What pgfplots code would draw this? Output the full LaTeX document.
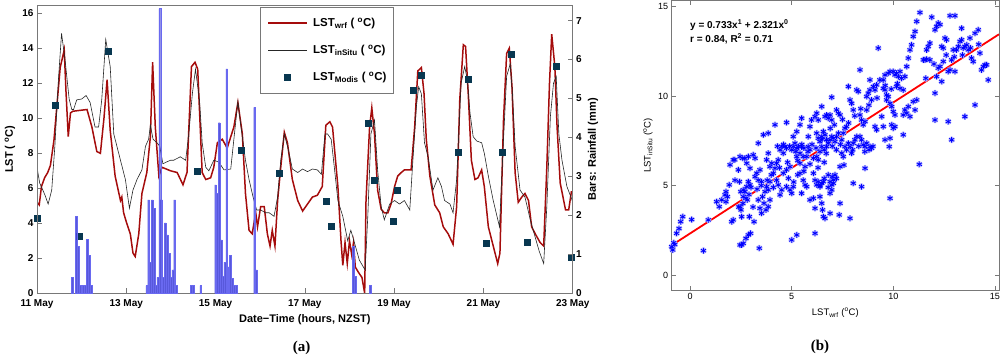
\documentclass[border=0pt]{standalone}
\usepackage{fontspec}
\setmainfont{Liberation Sans}
\newfontfamily\seriffont{Liberation Serif}
\usepackage{pgfplots}
\usepackage{pgfplotstable}
\pgfplotsset{compat=1.18}
\definecolor{wrfred}{RGB}{165,12,12}
\definecolor{modis}{RGB}{8,55,80}
\definecolor{rainfill}{RGB}{70,70,215}
\definecolor{raindraw}{RGB}{105,105,240}
\definecolor{axgray}{RGB}{120,120,120}
\definecolor{scatterhalo}{RGB}{180,180,255}

\pgfplotstableread{
d v
0 5.2
0.05 5.05
0.1 6.1
0.17 6.6
0.24 6.9
0.3 7.3
0.38 8.75
0.45 10.85
0.52 12.9
0.61 13.9
0.65 11.5
0.70 8.95
0.75 10.3
0.80 10.4
1.12 10.5
1.23 9.5
1.34 8.1
1.42 8.0
1.50 10.0
1.57 12.2
1.64 9.3
1.75 6.7
1.87 5.3
1.90 5.5
1.94 4.6
2.01 4.0
2.09 3.4
2.15 2.3
2.2 2.1
2.28 3.4
2.35 5.7
2.46 6.9
2.54 8.95
2.59 13.2
2.65 9.5
2.73 6.7
2.8 7.2
2.99 7.0
3.14 6.9
3.27 6.2
3.36 6.9
3.46 12.95
3.54 13.2
3.6 12.8
3.7 6.9
3.78 6.5
3.89 6.6
3.96 7.2
4.04 8.6
4.15 8.8
4.26 8.3
4.41 9.5
4.5 10.9
4.6 9.1
4.67 5.7
4.75 3.6
4.82 3.4
4.9 4.6
4.94 3.8
5.01 4.95
5.09 4.95
5.16 3.4
5.22 2.7
5.27 3.6
5.33 2.7
5.39 5.3
5.46 7.2
5.54 9.2
5.61 8.6
5.72 6.5
5.84 5.3
5.95 4.7
6.06 5.1
6.17 5.5
6.28 5.6
6.39 6.1
6.47 9.6
6.56 9.8
6.62 9.5
6.74 6.1
6.81 3.0
6.85 1.6
6.9 2.9
6.95 1.7
7.0 3.0
7.05 2.2
7.09 2.9
7.13 1.5
7.2 1.2
7.28 0.9
7.34 0.0
7.37 5.3
7.45 9.5
7.5 10.6
7.56 9.1
7.63 5.9
7.71 4.8
7.78 4.6
7.86 4.6
7.93 5.1
8.01 6.1
8.08 6.7
8.16 6.9
8.23 7.05
8.38 7.05
8.46 9.5
8.53 12.7
8.61 12.9
8.67 11.4
8.72 8.8
8.8 6.7
8.91 5.05
9.02 4.6
9.1 3.8
9.21 3.4
9.32 2.8
9.4 4.95
9.47 11.05
9.55 14.2
9.6 14.1
9.66 11.4
9.73 7.6
9.81 6.5
9.88 6.6
9.96 7.05
10.02 6.1
10.11 3.8
10.22 2.7
10.32 1.7
10.37 2.3
10.45 9.9
10.52 13.7
10.58 14.0
10.64 11.8
10.71 6.9
10.78 5.2
10.86 5.5
10.93 5.7
11.01 5.3
11.08 3.8
11.16 3.4
11.27 2.9
11.35 2.7
11.42 7.2
11.48 12.0
11.53 14.8
11.6 12.95
11.65 9.5
11.72 6.3
11.84 4.76
11.91 4.76
11.97 5.8
12.0 5.8
}\wrf

\pgfplotstableread{
d v
0 7.2
0.06 6.3
0.13 5.9
0.18 5.6
0.25 5.1
0.33 5.9
0.40 8.4
0.48 12.2
0.55 14.85
0.63 13.3
0.72 11.1
0.78 10.5
0.82 10.5
0.89 11.05
1.0 11.1
1.1 11.3
1.19 10.9
1.3 9.5
1.38 9.5
1.45 11.05
1.54 14.5
1.64 12.95
1.72 9.1
1.79 8.4
1.87 7.6
1.98 6.5
2.07 4.86
2.15 5.9
2.24 6.5
2.35 7.05
2.43 8.4
2.5 8.8
2.54 9.6
2.6 8.8
2.69 8.6
2.75 8.4
2.82 7.4
2.9 7.5
2.99 7.6
3.06 7.6
3.21 7.8
3.33 7.6
3.4 9.1
3.48 11.4
3.55 12.8
3.64 11.05
3.7 8.6
3.78 7.2
3.85 7.0
3.96 7.6
4.07 7.5
4.19 7.05
4.34 7.1
4.41 8.8
4.5 10.95
4.56 9.7
4.67 7.6
4.75 6.5
4.84 5.5
4.92 4.76
5.01 4.76
5.12 4.6
5.2 4.6
5.31 4.4
5.39 5.5
5.46 7.6
5.54 9.1
5.63 8.2
5.72 7.1
5.84 6.9
5.95 7.1
6.06 6.95
6.17 7.1
6.28 7.05
6.37 6.8
6.45 9.1
6.51 9.1
6.59 8.8
6.66 7.2
6.74 5.3
6.85 4.4
6.96 3.0
7.03 3.6
7.11 2.9
7.22 1.9
7.35 1.33
7.41 4.4
7.48 9.1
7.56 9.9
7.63 7.05
7.71 4.95
7.78 4.2
7.9 5.1
8.01 5.3
8.12 5.1
8.23 5.3
8.35 4.76
8.42 7.6
8.5 10.7
8.55 11.8
8.61 11.4
8.68 8.6
8.76 7.8
8.87 5.9
8.98 6.6
9.06 6.1
9.13 5.3
9.25 5.1
9.32 4.6
9.4 6.5
9.5 12.0
9.58 12.95
9.64 12.2
9.7 10.3
9.77 8.95
9.85 8.7
9.96 8.6
10.02 8.0
10.11 6.7
10.22 5.3
10.36 3.8
10.45 8.8
10.52 12.4
10.6 13.1
10.65 11.4
10.71 8.4
10.82 5.9
10.93 5.5
11.05 4.2
11.16 3.2
11.25 2.4
11.35 1.7
11.42 4.95
11.5 10.1
11.57 12.0
11.63 12.4
11.69 9.1
11.76 7.6
11.87 6.1
11.99 5.3
12.0 5.1
}\insitu

\pgfplotstableread{
d v
0 4.3
0.41 10.76
0.95 3.24
1.59 13.85
3.59 7.0
4.57 8.2
5.43 6.84
6.47 5.28
6.6 3.85
7.43 9.7
7.55 6.46
7.98 4.11
8.06 5.9
8.43 11.58
8.6 12.46
9.44 8.06
9.65 12.25
10.07 2.84
10.43 8.04
10.62 13.64
10.99 2.9
11.63 12.99
11.96 2.06
}\modisdata

\pgfplotstableread{
d r
0.792 0.41
0.875 1.98
0.917 1.2
0.958 0.2
1.0 0.2
1.042 0.2
1.083 0.2
1.125 1.39
1.167 0.98
1.208 0.2
2.458 0.2
2.5 2.4
2.542 0.8
2.583 2.4
2.625 2.18
2.667 0.2
2.708 0.41
2.75 7.31
2.792 2.4
2.833 0.41
2.875 1.81
2.917 1.5
2.958 1.03
3.0 0.41
3.042 0.6
3.083 2.4
3.125 0.2
3.458 0.2
3.5 0.2
3.667 0.2
4.0 2.78
4.042 2.57
4.083 4.38
4.125 1.37
4.167 0.43
4.208 0.8
4.25 5.76
4.292 0.68
4.333 0.98
4.375 0.38
4.417 0.2
4.458 0.2
4.875 4.77
4.917 0.6
7.083 1.2
7.125 0.43
7.458 0.2
}\rain

\pgfplotstableread{
x y
-0.9 1.58
-0.8 1.8
-0.75 1.7
-0.85 1.4
-0.66 2.33
-0.54 2.6
-0.46 2.98
-0.36 3.26
0.08 3.1
0.66 1.36
0.9 3.08
1.31 4.1
1.44 3.82
1.56 4.2
1.72 4.48
1.77 4.1
1.84 4.38
1.77 4.66
1.93 5.04
1.97 6.16
2.13 6.44
2.21 5.3
2.05 2.98
2.13 3.08
2.2 6.44
2.38 5.88
2.46 6.62
2.43 5.22
2.5 4.66
2.59 6.53
2.46 1.68
2.54 1.68
2.62 1.77
2.75 2.05
2.87 2.24
2.98 2.33
2.46 3.82
2.51 3.64
2.54 3.26
2.62 4.76
2.7 4.66
2.79 4.94
2.87 5.22
2.95 5.04
2.62 4.38
2.75 4.29
2.82 4.2
2.7 6.53
2.79 6.25
2.87 6.62
2.95 5.97
3.11 6.72
3.2 6.53
2.92 3.26
3.15 2.98
3.36 7.37
3.2 5.5
3.28 5.69
3.36 5.3
3.44 5.88
3.52 5.22
3.41 1.5
3.36 4.2
3.44 3.73
3.52 3.45
3.64 4.01
3.57 4.38
3.69 4.66
3.61 7.84
3.85 7.93
3.77 6.44
3.85 6.81
3.93 6.06
4.02 6.25
3.77 4.94
3.85 4.76
3.93 5.22
3.74 3.64
3.85 3.82
3.93 4.2
4.18 8.4
4.1 5.69
4.18 5.97
4.26 6.25
4.34 6.44
4.26 5.3
4.34 5.04
4.43 4.48
4.51 4.76
4.43 7.0
4.51 7.18
4.59 6.81
4.67 7.18
4.75 7.09
4.75 8.53
4.59 5.69
4.75 5.88
4.84 5.41
4.92 6.06
5.0 1.96
5.25 2.24
4.75 4.94
4.92 4.76
5.0 4.57
5.08 4.94
5.0 7.0
5.08 7.18
5.16 7.37
5.25 7.09
5.33 7.18
5.41 6.81
5.49 7.18
5.08 7.74
5.25 8.02
5.41 8.4
5.49 8.77
5.25 6.62
5.41 6.25
5.57 6.62
5.66 6.06
5.41 5.69
5.57 5.3
5.66 5.04
5.74 4.94
5.49 4.57
5.74 6.62
5.82 7.18
5.9 7.0
5.82 7.74
5.9 8.3
5.98 8.67
5.9 4.2
6.07 4.29
6.15 3.73
6.15 2.33
6.07 5.69
6.15 5.3
6.23 5.04
6.31 5.22
6.39 4.94
6.48 5.13
6.56 5.22
6.07 6.53
6.23 6.62
6.31 6.44
6.39 6.9
6.48 7.18
6.23 7.93
6.31 7.65
6.39 7.46
6.48 7.74
6.56 8.02
6.64 7.84
6.72 7.56
6.15 8.86
6.23 9.05
6.31 8.67
6.48 9.42
6.39 4.38
6.48 4.01
6.52 3.64
6.56 3.26
6.64 3.17
6.64 8.86
6.72 8.95
6.8 8.77
6.89 8.95
6.97 8.67
6.72 7.18
6.8 7.37
6.89 7.56
6.97 7.74
7.05 7.65
7.13 7.46
7.21 7.74
7.3 7.93
6.8 5.6
6.89 5.22
6.97 5.04
7.05 5.32
7.13 5.6
6.89 4.57
6.97 4.76
7.05 5.13
6.89 3.45
6.97 9.94
7.21 9.23
7.3 9.05
7.38 8.95
7.38 4.01
7.34 3.36
7.38 6.06
7.46 6.81
7.54 6.62
7.62 7.18
7.46 7.56
7.54 7.93
7.62 8.21
7.7 8.3
7.57 6.15
7.87 3.17
7.79 10.54
7.87 9.79
7.95 9.6
8.03 9.23
7.79 7.37
7.87 7.18
7.95 6.81
8.03 7.37
8.11 7.56
8.2 7.74
8.03 5.13
8.2 10.35
8.28 10.26
8.36 7.74
8.44 7.56
8.52 7.28
8.61 7.18
8.69 7.37
8.85 7.18
8.93 7.09
8.36 8.95
8.44 8.67
8.52 8.4
8.61 8.58
8.69 9.23
8.36 11.47
8.44 4.94
8.61 5.97
8.69 9.98
8.77 10.17
8.85 10.35
8.85 10.91
8.93 9.79
9.02 10.54
9.1 10.35
9.18 10.63
9.1 8.3
9.18 8.12
9.26 12.69
9.34 10.91
9.51 10.91
9.59 11.19
9.43 8.86
9.51 8.3
9.59 7.56
9.51 10.44
9.59 10.35
9.67 10.07
9.75 9.98
9.75 11.28
9.84 11.38
10.0 11.38
10.08 11.19
10.16 11.28
10.25 11.1
10.33 11.38
9.67 9.79
9.84 9.6
9.92 9.42
10.0 9.14
10.08 8.95
9.8 7.18
9.84 7.65
9.92 8.4
9.84 4.29
10.0 8.21
10.08 8.3
10.16 10.54
10.33 10.44
10.49 10.35
10.49 7.84
10.57 11.1
10.66 11.66
10.74 12.13
10.82 12.59
10.9 12.87
10.98 13.34
11.07 13.62
10.49 8.95
10.57 9.23
10.66 9.05
10.74 9.42
10.82 8.86
10.98 9.7
11.07 9.23
11.15 9.79
11.28 6.19
11.31 14.68
11.15 14.18
11.48 12.03
11.56 12.03
11.64 12.07
11.8 12.03
11.64 12.59
11.72 12.78
11.8 12.97
11.89 14.42
12.05 13.71
12.13 13.9
12.21 14.09
12.3 14.0
12.05 10.17
12.13 11.1
12.21 11.57
12.3 11.66
12.05 8.67
12.38 10.82
12.46 11.94
12.38 12.78
12.46 12.69
12.54 13.25
12.62 13.15
12.7 8.58
12.79 14.5
13.03 14.5
12.87 7.56
12.7 11.38
12.79 11.47
12.87 12.03
12.95 12.59
13.03 11.38
13.11 12.59
13.2 12.78
13.28 13.06
13.36 13.15
13.44 12.69
13.52 12.78
13.61 12.87
13.36 13.8
13.52 8.86
13.69 12.59
13.77 13.25
13.85 12.13
13.93 11.94
14.02 13.52
14.02 9.51
14.18 13.71
14.26 12.41
14.34 11.47
14.43 11.66
14.51 11.75
14.59 11.75
14.67 10.91
12.95 15.35
4.3 7.2
4.6 7.3
4.9 7.2
5.2 6.9
5.5 7.3
5.6 7.1
5.8 6.9
6.0 7.3
6.6 7.0
6.7 6.8
7.0 7.2
7.2 7.0
7.4 7.3
7.7 7.0
8.0 7.0
8.3 7.2
8.6 6.9
8.8 7.0
9.0 7.2
6.4 5.0
6.6 5.4
6.8 4.9
7.0 5.5
7.2 5.4
3.0 4.9
3.3 4.8
3.5 5.0
2.9 4.5
4.0 5.6
4.4 6.0
4.8 6.3
5.3 6.4
6.2 7.1
6.5 7.6
6.9 8.2
7.1 8.4
7.5 8.7
7.8 8.5
8.1 8.9
8.4 9.3
8.8 9.5
9.2 9.9
9.6 10.6
10.4 11.0
10.2 10.7
9.9 10.4
11.6 11.0
12.0 11.8
12.6 12.3
13.0 12.2
13.4 12.3
13.8 12.7
14.2 12.9
2.6 4.0
2.4 3.8
3.1 3.8
3.8 5.3
4.1 4.9
5.1 5.2
5.3 5.6
5.6 5.8
5.9 6.2
6.3 6.0
6.6 6.3
}\scatterdata

\begin{document}
\begin{tikzpicture}
\path[use as bounding box] (0pt,0pt) rectangle (1000pt,-359pt);

% ---------- (a) left chart, temperature axis ----------
\begin{axis}[
  at={(37pt,-293.3pt)}, anchor=south west, scale only axis,
  width=535.7pt, height=288.3pt,
  xmin=0, xmax=12, ymin=0, ymax=16.47,
  xtick={0,2,4,6,8,10,12},
  xticklabels={11 May,13 May,15 May,17 May,19 May,21 May,23 May},
  ytick={0,2,4,6,8,10,12,14,16},
  xtick pos=left, ytick pos=left, tick align=inside, major tick length=5pt,
  axis line style={axgray, line width=0.7pt},
  every tick/.style={axgray, line width=0.6pt},
  tick label style={font=\bfseries\fontsize{10}{12}\selectfont},
  xticklabel style={yshift=-3pt},
  /pgf/number format/assume math mode=true,
  xlabel={Date−Time (hours, NZST)},
  xlabel style={at={(axis description cs:0.5,-0.090)}, anchor=center, font=\bfseries\fontsize{11}{13}\selectfont},
  ylabel={LST ( \textsuperscript{o}C)},
  ylabel style={at={(axis description cs:-0.0504,0.5)}, anchor=center, font=\bfseries\fontsize{11}{13}\selectfont},
]
\addplot[color=wrfred, line width=1.5pt] table[x=d, y=v] {\wrf};
\addplot[color=black!85, line width=0.6pt] table[x=d, y=v] {\insitu};
\addplot[only marks, color=modis, mark=square*, mark size=3pt, mark options={fill=modis, draw=modis}] table[x=d, y=v] {\modisdata};
% legend (box, samples, labels)
\draw[axgray, line width=0.7pt, fill=white] (axis cs:5.011,11.43) rectangle (axis cs:7.982,16.34);
\addplot[color=wrfred, line width=1.5pt, forget plot] coordinates {(5.175,15.43) (6.048,15.43)};
\addplot[color=black!85, line width=0.6pt, forget plot] coordinates {(5.175,13.86) (6.048,13.86)};
\addplot[only marks, color=modis, mark=square*, mark size=3pt, mark options={fill=modis, draw=modis}, forget plot] coordinates {(5.612,12.34)};
\node[anchor=west, inner sep=0pt, font=\bfseries\fontsize{11.5}{13}\selectfont] at (axis cs:6.183,15.43) {LST\textsubscript{wrf} ( \textsuperscript{o}C)};
\node[anchor=west, inner sep=0pt, font=\bfseries\fontsize{11.5}{13}\selectfont] at (axis cs:6.183,13.86) {LST\textsubscript{inSitu} ( \textsuperscript{o}C)};
\node[anchor=west, inner sep=0pt, font=\bfseries\fontsize{11.5}{13}\selectfont] at (axis cs:6.183,12.34) {LST\textsubscript{Modis} ( \textsuperscript{o}C)};
\end{axis}

% ---------- (a) rainfall axis ----------
\begin{axis}[
  at={(37pt,-293.3pt)}, anchor=south west, scale only axis,
  width=535.7pt, height=288.3pt,
  xmin=0, xmax=12, ymin=0, ymax=7.40,
  xtick=\empty, ytick={0,1,2,3,4,5,6,7},
  ytick pos=right, yticklabel pos=right, tick align=inside, major tick length=5pt,
  axis line style={axgray, line width=0.7pt},
  every tick/.style={axgray, line width=0.6pt},
  tick label style={font=\bfseries\fontsize{10}{12}\selectfont},
  /pgf/number format/assume math mode=true,
  ylabel={Bars: Rainfall (mm)},
  ylabel style={at={(axis description cs:1.038,0.5)}, anchor=center, font=\bfseries\fontsize{11}{13}\selectfont},
]
\addplot[ybar, bar width=0.04, fill=rainfill, draw=raindraw, fill opacity=0.9, line width=0.3pt] table[x=d, y=r] {\rain};
\end{axis}

% ---------- (b) scatter ----------
\begin{axis}[
  at={(671.7pt,-290pt)}, anchor=south west, scale only axis,
  width=327.3pt, height=289.3pt,
  xmin=-0.9, xmax=15.2, ymin=-0.84, ymax=15.34,
  xtick={0,5,10,15}, ytick={0,5,10,15},
  tick align=inside, major tick length=4pt,
  axis line style={axgray, line width=0.7pt},
  every tick/.style={axgray, line width=0.6pt},
  tick label style={font=\fontsize{9}{11}\selectfont},
  /pgf/number format/assume math mode=true,
  xlabel={LST\textsubscript{wrf} (\textsuperscript{o}C)},
  xlabel style={at={(axis description cs:0.5,-0.0795)}, anchor=center, font=\fontsize{9.5}{11}\selectfont},
  ylabel={LST\textsubscript{inSitu} (\textsuperscript{o}C)},
  ylabel style={at={(axis description cs:-0.0724,0.5)}, anchor=center, font=\fontsize{9.5}{11}\selectfont},
]
\addplot[only marks, mark=asterisk, mark size=3.2pt, color=scatterhalo, line width=2.2pt] table[x=x, y=y] {\scatterdata};
\addplot[only marks, mark=asterisk, mark size=2.9pt, color=blue, line width=0.8pt] table[x=x, y=y] {\scatterdata};
\addplot[red, line width=1.8pt] coordinates {(-0.9,1.661) (15.2,13.463)};
\node[anchor=west, inner sep=0pt, font=\bfseries\fontsize{10}{12}\selectfont] at (axis cs:0,13.98) {y = 0.733x\textsuperscript{1} + 2.321x\textsuperscript{0}};
\node[anchor=west, inner sep=0pt, font=\bfseries\fontsize{10}{12}\selectfont] at (axis cs:0,13.2) {r = 0.84, R\textsuperscript{2} = 0.71};
\end{axis}

\node[font=\seriffont\bfseries\fontsize{15}{17}\selectfont] at (301.7pt,-348pt) {(a)};
\node[font=\seriffont\bfseries\fontsize{15}{17}\selectfont] at (820pt,-347pt) {(b)};
\end{tikzpicture}
\end{document}
